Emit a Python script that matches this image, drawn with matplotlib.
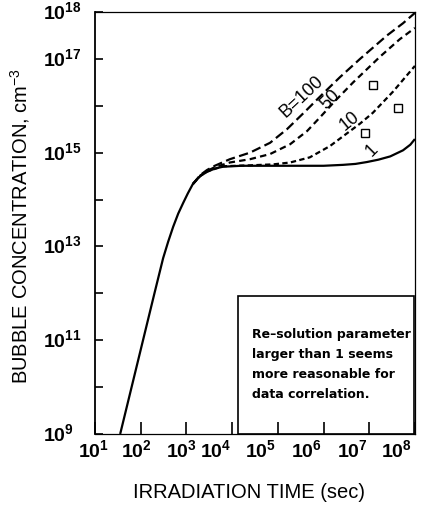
import numpy as np
import matplotlib
matplotlib.use("Agg")
import matplotlib.pyplot as plt
from matplotlib.patches import Rectangle
from matplotlib.transforms import ScaledTranslation, blended_transform_factory

plt.rcParams["font.family"] = ["Liberation Sans", "DejaVu Sans"]
plt.rcParams["mathtext.fontset"] = "custom"
plt.rcParams["mathtext.rm"] = "Liberation Sans"
plt.rcParams["mathtext.bf"] = "Liberation Sans:bold"

# nucleation rise shared by every curve (log10 time, log10 concentration)
rise_logt = [1.55, 2.0, 2.3, 2.49, 2.6, 2.71, 2.82, 2.93, 3.03, 3.14, 3.3, 3.45, 3.62, 3.8]
rise_logn = [9.0, 10.8, 12.0, 12.75, 13.1, 13.42, 13.7, 13.93, 14.13, 14.33, 14.5, 14.59, 14.66, 14.7]

# B = 1 (solid)
b1_logt = [4.2, 5.0, 6.0, 6.43, 6.7, 6.95, 7.2, 7.46, 7.74, 7.9, 8.0]
b1_logn = [14.72, 14.72, 14.72, 14.74, 14.76, 14.8, 14.85, 14.92, 15.05, 15.17, 15.29]

# B = 10
b10_logt = [3.14, 3.3, 3.45, 3.8, 4.4, 4.9, 5.27, 5.7, 6.14, 6.58, 6.8, 7.08, 7.52, 8.0]
b10_logn = [14.33, 14.5, 14.6, 14.71, 14.73, 14.75, 14.79, 14.9, 15.14, 15.46, 15.62, 15.85, 16.3, 16.85]

# B = 50
b50_logt = [3.14, 3.3, 3.45, 3.62, 3.95, 4.39, 4.83, 5.27, 5.64, 5.92, 6.25, 6.65, 7.24, 7.67, 8.0]
b50_logn = [14.33, 14.51, 14.61, 14.69, 14.79, 14.86, 14.97, 15.18, 15.46, 15.75, 16.1, 16.5, 17.05, 17.42, 17.66]

# B = 100
b100_logt = [3.14, 3.3, 3.45, 3.62, 3.95, 4.39, 4.83, 5.2, 5.6, 6.0, 6.36, 6.8, 7.39, 7.74, 8.0]
b100_logn = [14.33, 14.52, 14.63, 14.72, 14.86, 15.0, 15.21, 15.5, 15.88, 16.27, 16.61, 17.0, 17.5, 17.76, 17.98]

# measured bubble densities
data_logt = [6.91, 7.08, 7.63]
data_logn = [15.42, 16.44, 15.95]

x_decades = [1, 2, 3, 4, 5, 6, 7, 8]
y_decades = [9, 10, 11, 12, 13, 14, 15, 16, 17, 18]
y_labelled = [9, 11, 13, 15, 17, 18]

note_lines = ["Re\u2013solution parameter", "larger than 1 seems",
              "more reasonable for", "data correlation."]


def to_val(logs):
    return np.power(10.0, np.asarray(logs))


fig = plt.figure(figsize=(4.34, 5.08), dpi=100)
ax = fig.add_axes([0.219, 0.1457, 0.737, 0.8307])
ax.set_xscale("log")
ax.set_yscale("log")
ax.set_xlim(1e1, 1e8)
ax.set_ylim(1e9, 1e18)

lw = 1.6
ax.plot(to_val(rise_logt + b1_logt), to_val(rise_logn + b1_logn),
        color="black", lw=lw, solid_capstyle="butt")
ax.plot(to_val(b10_logt), to_val(b10_logn), color="black", lw=lw,
        linestyle=(0, (2.4, 1.5)))
ax.plot(to_val(b50_logt), to_val(b50_logn), color="black", lw=lw,
        linestyle=(0, (2.9, 1.9)))
ax.plot(to_val(b100_logt), to_val(b100_logn), color="black", lw=lw,
        linestyle=(0, (4.2, 2.0)))

ax.plot(to_val(data_logt), to_val(data_logn), linestyle="none", marker="s",
        markersize=6, markerfacecolor="white", markeredgecolor="black",
        markeredgewidth=1.0)

# curve labels
ax.text(10 ** 5.52, 10 ** 16.2, "B=100", fontsize=13, rotation=43,
        ha="center", va="center")
ax.text(10 ** 6.15, 10 ** 16.12, "50", fontsize=13, rotation=45,
        ha="center", va="center")
ax.text(10 ** 6.58, 10 ** 15.67, "10", fontsize=13, rotation=39,
        ha="center", va="center")
ax.text(10 ** 7.06, 10 ** 15.04, "1", fontsize=13, rotation=45,
        ha="center", va="center")

# spines and ticks
for side in ["top", "right", "bottom"]:
    ax.spines[side].set_linewidth(0.9)
ax.spines["left"].set_linewidth(1.3)
ax.minorticks_off()

ax.set_xticks(to_val(x_decades))
ax.set_xticklabels([r"$\mathbf{10^{%d}}$" % d for d in x_decades])
ax.tick_params(axis="x", direction="in", length=8.5, width=1.2, pad=4,
               labelsize=14)
x_shift_px = [-1, -4, -5, -16, -17, -17, -17, -18]
for lab, dx in zip(ax.get_xticklabels(), x_shift_px):
    lab.set_transform(lab.get_transform() +
                      ScaledTranslation(dx / 100, 0, fig.dpi_scale_trans))

ax.set_yticks(to_val(y_decades))
ax.set_yticklabels([])
ax.tick_params(axis="y", direction="in", length=6, width=1.2)
ytrans = blended_transform_factory(ax.transAxes, ax.transData)
for d in y_labelled:
    ax.text(-0.1625, 10.0 ** d, r"$\mathbf{10^{%d}}$" % d, transform=ytrans,
            ha="left", va="center", fontsize=14)

# note box
ax.add_patch(Rectangle((0.447, 0.0), 0.55, 0.327, transform=ax.transAxes,
                       fill=False, edgecolor="black", lw=1.2))
for i, line in enumerate(note_lines):
    ax.text(0.49, 0.236 - i * 0.0474, line, transform=ax.transAxes,
            family="DejaVu Sans", fontweight="bold", fontsize=9,
            ha="left", va="center")

fig.text(0.046, 0.555, "BUBBLE CONCENTRATION, cm$^{-3}$", rotation=90,
         ha="center", va="center", fontsize=14.5)
fig.text(0.574, 0.031, "IRRADIATION TIME (sec)", ha="center", va="center",
         fontsize=14.5)

fig.savefig("out.png", dpi=100)
